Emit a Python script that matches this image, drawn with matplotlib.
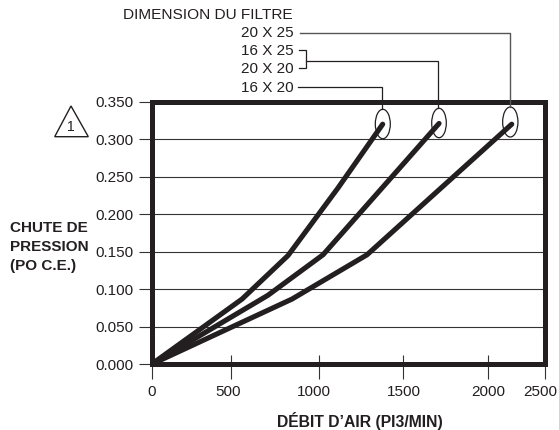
import numpy as np
import matplotlib
matplotlib.use('Agg')
import matplotlib.pyplot as plt
from matplotlib.patches import Ellipse, Polygon
from matplotlib.transforms import Affine2D

plt.rcParams['font.family'] = ['Liberation Sans', 'DejaVu Sans']

# Data
x_ticks = [0, 500, 1000, 1500, 2000, 2500]
y_ticks = [0.0, 0.05, 0.10, 0.15, 0.20, 0.25, 0.30, 0.35]

flow_small = [0, 563, 824, 1113, 1379]
drop_small = [0, 0.087, 0.145, 0.235, 0.320]
flow_mid = [0, 710, 1024, 1712]
drop_mid = [0, 0.092, 0.146, 0.321]
flow_large = [0, 847, 1286, 2208]
drop_large = [0, 0.087, 0.146, 0.320]

filter_sizes = ['20 X 25', '16 X 25', '20 X 20', '16 X 20']

INK = '#231f20'
W, H = 559, 430

# The x axis of the original is not evenly spaced: tick positions in pixels
x_tick_px = [151.5, 231, 319, 403, 488, 545]
AX_L, AX_R, AX_T, AX_B = 151.5, 545, 101.7, 364.3


def fwd(v):
    return np.interp(v, x_ticks, x_tick_px)


def inv(p):
    return np.interp(p, x_tick_px, x_ticks)


fig = plt.figure(figsize=(W / 100, H / 100), dpi=100)
ax = fig.add_axes([AX_L / W, 1 - AX_B / H, (AX_R - AX_L) / W, (AX_B - AX_T) / H])

ax.set_xscale('function', functions=(fwd, inv))
ax.set_xlim(0, 2500)
ax.set_ylim(0, 0.35)

for xs, ys in [(flow_small, drop_small), (flow_mid, drop_mid), (flow_large, drop_large)]:
    ax.plot(xs, ys, color=INK, lw=3.7, solid_capstyle='round', solid_joinstyle='round', zorder=3)

ax.set_yticks(y_ticks)
ax.set_yticklabels([f'{v:.3f}' for v in y_ticks])
ax.set_xticks(x_ticks)
ax.set_xticklabels([str(v) for v in x_ticks])
ax.grid(axis='y', color='#333333', lw=0.8)
ax.set_axisbelow(True)
ax.tick_params(axis='y', length=9.4, width=0.8, color='#333333', pad=3.6, labelsize=11, labelcolor=INK)
ax.tick_params(axis='x', length=10.8, width=0.8, color='#333333', pad=4.2, labelsize=11, labelcolor=INK)
ax.vlines(x_ticks[1:-1], 0, 0.012, color='#333333', lw=0.8, zorder=2)

# labels do not sit centred on their ticks in the original
for lab, dx in zip(ax.get_xticklabels(), [0, -3.3, -4.7, 1, 0.3, -4.3]):
    lab.set_transform(lab.get_transform() + Affine2D().translate(dx, 0))

for s in ax.spines.values():
    s.set_linewidth(3.6)
    s.set_color(INK)

# Overlay in pixel coordinates for the leaders and the notes
ov = fig.add_axes([0, 0, 1, 1], facecolor='none')
ov.set_xlim(0, W)
ov.set_ylim(H, 0)
ov.axis('off')

ov.text(122.7, 14.7, 'DIMENSION DU FILTRE', fontsize=11.1, color=INK, va='center')
for name, y in zip(filter_sizes, [32.7, 50.7, 69.3, 87.7]):
    ov.text(294, y, name, fontsize=11, color=INK, ha='right', va='center')

lead = dict(color=INK, lw=0.9, solid_joinstyle='miter')
ov.plot([300, 509.5, 509.5], [32.7, 32.7, 107], color='#555555', lw=1.0)
ov.plot([299.3, 305.7, 305.7, 299.3], [50, 50, 68.3, 68.3], **lead)
ov.plot([305.7, 438.2, 438.2], [60.7, 60.7, 108], **lead)
ov.plot([298.3, 382.4, 382.4], [86.5, 86.5, 109], **lead)

for cx, cy, w, h in [(382.8, 124, 15, 29.4), (439, 123, 14.6, 29.4), (510.3, 122, 15.3, 30)]:
    ov.add_patch(Ellipse((cx, cy), w, h, fill=False, ec=INK, lw=0.9))

ov.add_patch(Polygon([(71, 106), (54.7, 136.7), (88.3, 136.7)], closed=True, fill=False, ec=INK, lw=1.0))
ov.text(71, 127, '1', fontsize=10, color=INK, ha='center', va='center')

for line, y in zip(['CHUTE DE', 'PRESSION', '(PO C.E.)'], [227.7, 246.7, 266]):
    ov.text(10, y, line, fontsize=11, fontweight='bold', color=INK, va='center')
ov.text(443, 421, 'DÉBIT D’AIR (PI3/MIN)', fontsize=11.3, fontweight='bold', color=INK, ha='right', va='center')

fig.savefig('out.png', dpi=100)
